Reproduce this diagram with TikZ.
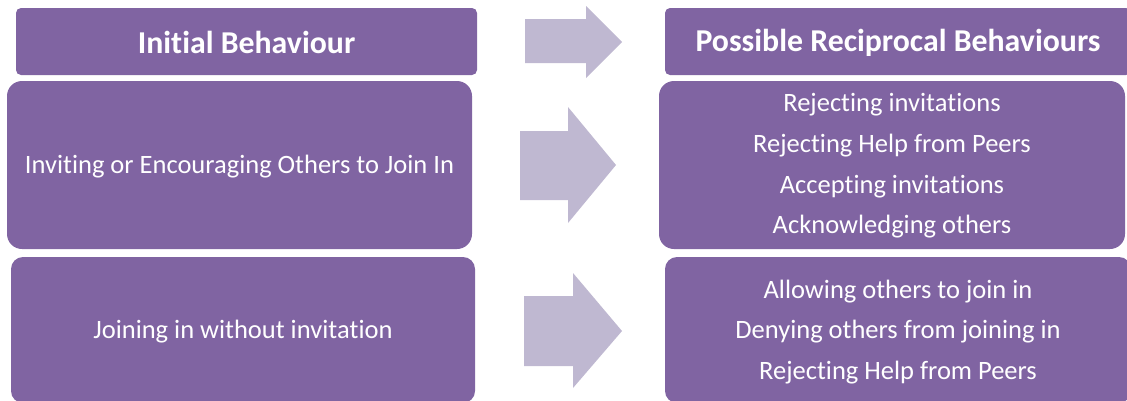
\documentclass[tikz,border=0pt]{standalone}
\usepackage{fontspec}
\setmainfont{Carlito}[Ligatures={NoCommon,NoRequired,NoContextual,NoRare},Contextuals={NoAlternate}]
\newcommand\tsep{\kern0pt }
\definecolor{boxpurple}{RGB}{128,100,162}
\definecolor{arrowlilac}{RGB}{191,184,209}
\tikzset{
  box/.style={fill=boxpurple, draw=none, inner sep=0pt, rounded corners=#1},
  box/.default=12pt,
  lbl/.style={text=white, align=center, inner sep=0pt},
  headtext/.style={lbl, font=\fontsize{31.8}{36}\selectfont\bfseries},
  bodytext/.style={lbl, font=\fontsize{26.5}{40.7}\selectfont},
  bigarrow/.style={fill=arrowlilac, draw=none}
}
\begin{document}
\begin{tikzpicture}[x=1pt,y=-1pt]
\useasboundingbox (0,0) rectangle (1127,400);
\clip (0,0) rectangle (1127,400);
% left column
\node[box=5pt, minimum width=461pt, minimum height=67pt] (ib) at (246.5,41.5) {};
\node[headtext] (ibt) at (ib.center) [yshift=-1pt] {Init\tsep ial Behaviour};
\node[box=15pt, minimum width=465pt, minimum height=168pt] (inv) at (239.5,165) {};
\node[bodytext] (invt) at (inv.center) [yshift=-1.5pt] {Invit\tsep ing or Encouraging Others to Join In};
\node[box=12pt, minimum width=464pt, minimum height=146pt] (join) at (243,330) {};
\node[bodytext] (joint) at (join.center) [yshift=-1.5pt] {Joining in without invit\tsep ation};
% right column
\node[box=5pt, minimum width=466pt, minimum height=67pt] (prb) at (898,41.5) {};
\node[headtext] (prbt) at (prb.center) [yshift=-1pt] {Possible Reciprocal Behaviours};
\node[box=15pt, minimum width=466pt, minimum height=168pt] (r2) at (892,165) {};
\node[bodytext] (r2t) at (r2.center) [yshift=-1pt] {Reject\tsep ing invit\tsep at\tsep ions\\Reject\tsep ing Help from Peers\\Accept\tsep ing invit\tsep at\tsep ions\\Acknowledging others};
\node[box=12pt, minimum width=466pt, minimum height=146pt] (r3) at (898,330) {};
\node[bodytext] (r3t) at (r3.center) [yshift=-2pt] {Allowing others to join in\\Denying others from joining in\\Reject\tsep ing Help from Peers};
% arrows
\fill[bigarrow] (525,19) -- (586,19) -- (586,6) -- (622,42) -- (586,78) -- (586,63) -- (525,63) -- cycle;
\fill[bigarrow] (520,131) -- (568,131) -- (568,107) -- (616,165) -- (568,223) -- (568,200) -- (520,200) -- cycle;
\fill[bigarrow] (524,296) -- (573,296) -- (573,273) -- (622,331) -- (573,388) -- (573,366) -- (524,366) -- cycle;
\end{tikzpicture}
\end{document}
